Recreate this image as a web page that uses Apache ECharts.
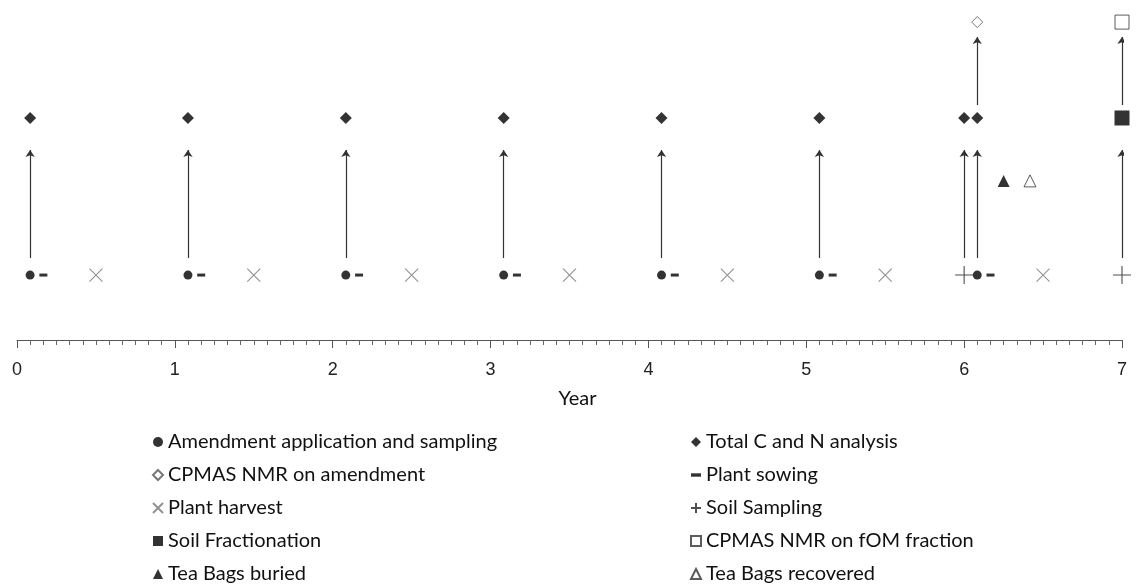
<!DOCTYPE html>
<html>
<head>
<meta charset="utf-8">
<script src="https://cdn.jsdelivr.net/npm/echarts@6/dist/echarts.min.js"></script>
<style>html,body{margin:0;padding:0;background:#fff}#c{width:1138px;height:585px}</style>
</head>
<body>
<div id="c"></div>
<script>
// ---- data (time in years) ----
const amendment = [0.083, 1.083, 2.083, 3.083, 4.083, 5.083, 6.083];
const sowing = [0.167, 1.167, 2.167, 3.167, 4.167, 5.167, 6.167];
const harvest = [0.5, 1.5, 2.5, 3.5, 4.5, 5.5, 6.5];
const soilSampling = [6.0, 7.0];
const totalCN = [0.083, 1.083, 2.083, 3.083, 4.083, 5.083, 6.0, 6.083];
const nmrAmendment = [6.083];
const fractionation = [7.0];
const nmrFOM = [7.0];
const teaBuried = [6.25];
const teaRecovered = [6.417];
const lowerArrows = [0.083, 1.083, 2.083, 3.083, 4.083, 5.083, 6.0, 6.083, 7.0];
const upperArrows = [6.083, 7.0];
const yearTicks = [0, 1, 2, 3, 4, 5, 6, 7];

// row levels on a hidden vertical scale
const ROW_EVENT = 1.91, ROW_TEA = 4.68, ROW_ANALYSIS = 6.53, ROW_NMR = 9.35;
const ARROW_LOW = [2.41, 5.59], ARROW_HIGH = [6.91, 8.91];

const names = {
  amend: 'Amendment application and sampling',
  cn: 'Total C and N analysis',
  nmrA: 'CPMAS NMR on amendment',
  sow: 'Plant sowing',
  harv: 'Plant harvest',
  soil: 'Soil Sampling',
  frac: 'Soil Fractionation',
  nmrF: 'CPMAS NMR on fOM fraction',
  teaB: 'Tea Bags buried',
  teaR: 'Tea Bags recovered'
};

const pts = (xs, y) => xs.map(x => [x, y]);
const xPath = 'path://M0,0L10,10M10,0L0,10';
const plusPath = 'path://M5,0L5,10M0,5L10,5';
const dashPath = 'path://M0,0L7,0L7,2.4L0,2.4Z';

const chart = echarts.init(document.getElementById('c'));
const legendText = {fontFamily: 'Lato, "Open Sans", sans-serif', fontSize: 20, color: '#111', lineHeight: 20};
chart.setOption({
  animation: false,
  grid: {left: 17, right: 16, top: 0, bottom: 245},
  xAxis: {
    type: 'value', min: 0, max: 7, interval: 1,
    name: 'Year', nameLocation: 'middle', nameGap: 49,
    nameTextStyle: {fontFamily: 'Lato, "Open Sans", sans-serif', fontSize: 20, color: '#111', padding: [0, 0, 0, 16]},
    axisLine: {lineStyle: {color: '#555', width: 1}},
    axisTick: {show: true, length: 8, lineStyle: {color: '#555'}},
    minorTick: {show: true, splitNumber: 12, length: 5, lineStyle: {color: '#666'}},
    splitLine: {show: false},
    axisLabel: {margin: 21, fontFamily: 'Arial, "Liberation Sans", sans-serif', fontSize: 18, color: '#222',
      formatter: v => yearTicks.includes(v) ? String(v) : ''}
  },
  yAxis: {type: 'value', min: 0, max: 10, show: false},
  legend: [
    {orient: 'vertical', left: 152, top: 432, padding: 0, itemGap: 13, itemWidth: 10, itemHeight: 10, textStyle: legendText,
     data: [names.amend, names.nmrA, names.harv, names.frac, names.teaB], selectedMode: false},
    {orient: 'vertical', left: 690, top: 432, padding: 0, itemGap: 13, itemWidth: 10, itemHeight: 10, textStyle: legendText,
     data: [names.cn, {name: names.sow, icon: dashPath}, names.soil, names.nmrF, names.teaR], selectedMode: false}
  ],
  series: [
    {type: 'lines', coordinateSystem: 'cartesian2d', symbol: ['none', 'arrow'], symbolSize: 7, silent: true,
     lineStyle: {color: '#333', width: 1.2, opacity: 1},
     data: lowerArrows.map(x => ({coords: [[x, ARROW_LOW[0]], [x, ARROW_LOW[1]]]})).concat(
           upperArrows.map(x => ({coords: [[x, ARROW_HIGH[0]], [x, ARROW_HIGH[1]]]})))},
    {name: names.amend, type: 'scatter', symbol: 'circle', symbolSize: 9, itemStyle: {color: '#000'}, data: pts(amendment, ROW_EVENT)},
    {name: names.sow, type: 'scatter', symbol: 'rect', symbolSize: [8, 3], itemStyle: {color: '#000'}, data: pts(sowing, ROW_EVENT)},
    {name: names.harv, type: 'scatter', symbol: xPath, symbolSize: 13, itemStyle: {color: 'rgba(0,0,0,0)', borderColor: '#777', borderWidth: 1.1}, data: pts(harvest, ROW_EVENT)},
    {name: names.soil, type: 'scatter', symbol: plusPath, symbolSize: 18, itemStyle: {color: 'rgba(0,0,0,0)', borderColor: '#222', borderWidth: 1.1}, data: pts(soilSampling, ROW_EVENT)},
    {name: names.cn, type: 'scatter', symbol: 'diamond', symbolSize: 12, itemStyle: {color: '#000'}, data: pts(totalCN, ROW_ANALYSIS)},
    {name: names.nmrA, type: 'scatter', symbol: 'diamond', symbolSize: 11, itemStyle: {color: '#fff', borderColor: '#555', borderWidth: 1}, data: pts(nmrAmendment, ROW_NMR)},
    {name: names.frac, type: 'scatter', symbol: 'rect', symbolSize: 15, itemStyle: {color: '#000'}, data: pts(fractionation, ROW_ANALYSIS)},
    {name: names.nmrF, type: 'scatter', symbol: 'rect', symbolSize: 14, itemStyle: {color: '#fff', borderColor: '#333', borderWidth: 1}, data: pts(nmrFOM, ROW_NMR)},
    {name: names.teaB, type: 'scatter', symbol: 'triangle', symbolSize: 12, itemStyle: {color: '#000'}, data: pts(teaBuried, ROW_TEA)},
    {name: names.teaR, type: 'scatter', symbol: 'triangle', symbolSize: 12, itemStyle: {color: '#fff', borderColor: '#333', borderWidth: 1}, data: pts(teaRecovered, ROW_TEA)}
  ]
});
</script>
</body>
</html>
